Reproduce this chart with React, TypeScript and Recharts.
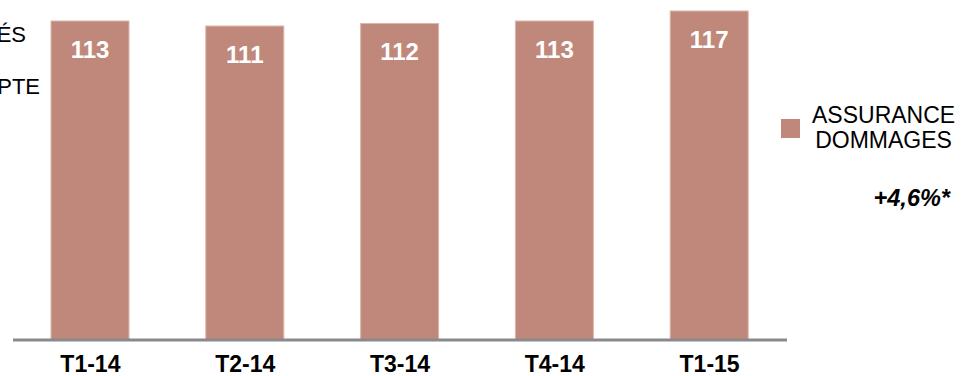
import React from 'react';
import { BarChart, Bar, XAxis, YAxis, LabelList } from 'recharts';

const quarters = ['T1-14', 'T2-14', 'T3-14', 'T4-14', 'T1-15'];
const values = [113, 111, 112, 113, 117];
const seriesName = 'ASSURANCE DOMMAGES';
const growthNote = '+4,6%*';
const sideTexts = ['ÉS', 'PTE'];

const data = quarters.map((q, i) => ({ quarter: q, value: values[i] }));

const BAR_COLOR = '#c0887a';
const FONT = '"Liberation Sans", Arial, sans-serif';
const CHART_W = 964;
const CHART_H = 376;
const AXIS_H = 36;

// bars run down to the axis line, not to the zero of the scale
const FullBar = (props: any) => {
  const { x, y, width, background } = props;
  const bottom = background ? background.y + background.height : CHART_H - AXIS_H;
  return (
    <rect x={x} y={y} width={width} height={bottom - y} fill={BAR_COLOR} stroke="#dbb6ac" strokeWidth={1} />
  );
};

const ValueLabel = (props: any) => {
  const { x, y, width, value } = props;
  return (
    <text
      x={x + width / 2}
      y={y + 28}
      textAnchor="middle"
      dominantBaseline="central"
      fill="#ffffff"
      fontFamily={FONT}
      fontWeight="bold"
      fontSize={24}
    >
      {value}
    </text>
  );
};

const QuarterTick = (props: any) => {
  const { x, y, payload } = props;
  return (
    <text x={x} y={y + 24} textAnchor="middle" fill="#000" fontFamily={FONT} fontWeight="bold" fontSize={23}>
      {payload.value}
    </text>
  );
};

export default function App() {
  return (
    <div style={{ position: 'absolute', left: 0, top: 0, width: CHART_W, height: CHART_H, background: '#fff', overflow: 'hidden' }}>
      <div style={{ position: 'absolute', right: CHART_W - 26, top: 22, fontFamily: FONT, fontSize: 22, whiteSpace: 'nowrap' }}>
        {sideTexts[0]}
      </div>
      <div style={{ position: 'absolute', right: CHART_W - 40, top: 74, fontFamily: FONT, fontSize: 22, whiteSpace: 'nowrap' }}>
        {sideTexts[1]}
      </div>
      <BarChart width={CHART_W} height={CHART_H} data={data} margin={{ top: 0, right: 177, bottom: 0, left: 13 }}>
        <XAxis
          dataKey="quarter"
          height={AXIS_H}
          axisLine={{ stroke: '#8a8a8a', strokeWidth: 3 }}
          tickLine={false}
          tick={<QuarterTick />}
        />
        <YAxis hide domain={[-14.6, 121.4]} />
        <Bar dataKey="value" name={seriesName} barSize={78} shape={<FullBar />} isAnimationActive={false}>
          <LabelList dataKey="value" content={<ValueLabel />} />
        </Bar>
      </BarChart>
      <div
        style={{
          position: 'absolute',
          left: 781,
          top: 103,
          display: 'flex',
          alignItems: 'center',
          fontFamily: FONT,
          fontSize: 23,
          color: '#000',
        }}
      >
        <div style={{ width: 19, height: 19, background: BAR_COLOR, marginRight: 12 }} />
        <div style={{ textAlign: 'center', lineHeight: '25px' }}>
          {seriesName.split(' ').map((w) => (
            <div key={w}>{w}</div>
          ))}
        </div>
      </div>
      <div
        style={{
          position: 'absolute',
          right: CHART_W - 950,
          top: 185,
          fontFamily: FONT,
          fontSize: 23.5,
          fontWeight: 'bold',
          fontStyle: 'italic',
        }}
      >
        {growthNote}
      </div>
    </div>
  );
}
